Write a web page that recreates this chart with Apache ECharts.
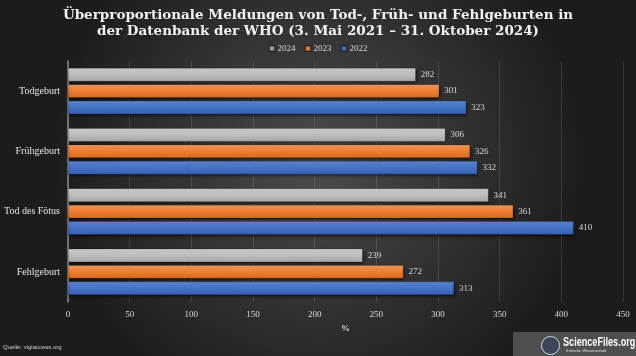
<!DOCTYPE html>
<html><head><meta charset="utf-8">
<script src="https://cdn.jsdelivr.net/npm/echarts@6/dist/echarts.min.js"></script>
<style>html,body{margin:0;padding:0;background:#2a2a2a}#c{width:636px;height:356px}</style>
</head><body><div id="c"></div>
<script>
const categories = ['Fehlgeburt', 'Tod des Fötus', 'Frühgeburt', 'Todgeburt'];
const seriesNames = ['2024', '2023', '2022'];
const v2024 = [239, 341, 306, 282];
const v2023 = [272, 361, 326, 301];
const v2022 = [313, 410, 332, 323];
const xTicks = [0, 50, 100, 150, 200, 250, 300, 350, 400, 450];

const serif = '"Liberation Serif", "DejaVu Serif", serif';
function grad(c1, c2, c3) {
  return new echarts.graphic.LinearGradient(0, 0, 0, 1, [
    {offset: 0, color: c1}, {offset: 0.5, color: c2}, {offset: 1, color: c3}
  ]);
}
const colors = [
  grad('#cfcfcf', '#bdbdbd', '#a5a5a5'),
  grad('#f79a5a', '#ed7d31', '#d8681e'),
  grad('#5a88d6', '#4472c4', '#3460b0')
];
const legendColors = ['#a5a5a5', '#ed7d31', '#4472c4'];
const data = [v2024, v2023, v2022];

const chart = echarts.init(document.getElementById('c'));
chart.setOption({
  backgroundColor: new echarts.graphic.RadialGradient(0.5, 0.45, 0.75, [
    {offset: 0, color: '#4c4c4c'}, {offset: 1, color: '#1c1c1c'}
  ]),
  title: {
    text: 'Überproportionale Meldungen von Tod-, Früh- und Fehlgeburten in\nder Datenbank der WHO (3. Mai 2021 – 31. Oktober 2024)',
    left: 'center', top: 2,
    textStyle: {fontFamily: '"DejaVu Serif", serif', fontWeight: 'bold', fontSize: 13.5, color: '#f2f2f2', lineHeight: 16}
  },
  legend: {
    data: seriesNames.map((n, i) => ({name: n, itemStyle: {color: legendColors[i]}})),
    top: 39, left: 'center', itemWidth: 5, itemHeight: 5, itemGap: 9,
    icon: 'rect',
    textStyle: {fontFamily: serif, fontSize: 9, color: '#d9d9d9', padding: [0, 0, 0, -2]}
  },
  grid: {left: 68, right: 13, top: 61, bottom: 54, containLabel: false},
  xAxis: {
    type: 'value', min: 0, max: 450, interval: 50,
    name: '%', nameLocation: 'middle', nameGap: 12,
    nameTextStyle: {fontFamily: serif, fontSize: 9, color: '#d9d9d9', fontWeight: 'bold'},
    axisLine: {show: false}, axisTick: {show: false},
    axisLabel: {fontFamily: serif, fontSize: 9, color: '#d9d9d9', margin: 8,
      formatter: v => xTicks.includes(v) ? String(v) : ''},
    splitLine: {lineStyle: {color: 'rgba(255,255,255,0.12)', width: 1}}
  },
  yAxis: {
    type: 'category', data: categories,
    axisLine: {show: true, lineStyle: {color: '#8a8a8a', width: 1.5}},
    axisTick: {show: false},
    axisLabel: {fontFamily: serif, fontSize: 10, color: '#e6e6e6', margin: 8}
  },
  series: seriesNames.map((n, i) => ({
    name: n, type: 'bar', data: data[i],
    barGap: '22%', barCategoryGap: '23%',
    itemStyle: {color: colors[i], borderColor: 'rgba(0,0,0,0.35)', borderWidth: 0.5,
      shadowColor: 'rgba(0,0,0,0.6)', shadowBlur: 3, shadowOffsetX: 1, shadowOffsetY: 2},
    label: {show: true, position: 'right', distance: 5, fontFamily: serif, fontSize: 9, color: '#d9d9d9'}
  })),
  graphic: [
    {type: 'text', left: 3, top: 344, style: {text: 'Quelle: vigiaccess.org', fill: '#cfcfcf', font: '6px "Liberation Sans", sans-serif'}},
    {type: 'rect', left: 513, top: 332, shape: {width: 123, height: 24}, style: {fill: 'rgba(120,120,120,0.55)'}},
    {type: 'circle', left: 541, top: 336, shape: {r: 9}, style: {fill: 'rgba(60,70,90,0.9)', stroke: '#cfd8e0', lineWidth: 1}},
    {type: 'text', x: 563, y: 336, scaleX: 0.7, style: {text: 'ScienceFiles.org', fill: '#ffffff', font: 'bold 13px "Liberation Sans", sans-serif'}},
    {type: 'text', x: 566, y: 349, style: {text: 'Kritische Wissenschaft', fill: '#e0e0e0', font: '4px "Liberation Sans", sans-serif'}}
  ]
});
</script>
</body></html>
